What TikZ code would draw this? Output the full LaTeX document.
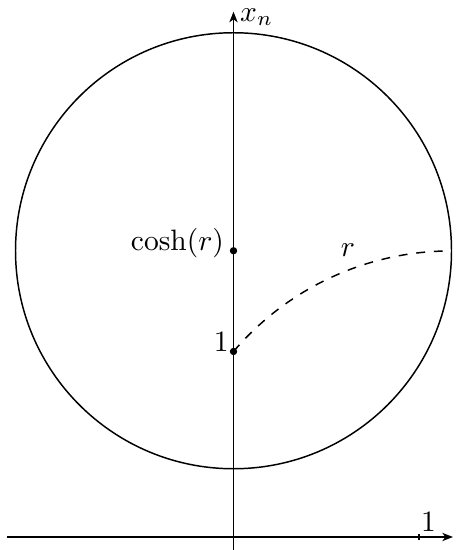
\documentclass[tikz,border=0pt]{standalone}
\usetikzlibrary{arrows.meta}
\begin{document}
\begin{tikzpicture}[x=62.88pt,y=62.88pt,line width=0.5pt,
  axis/.style={-{Stealth[length=3.6pt,width=2.8pt,inset=1pt]}},
  dotmark/.style={fill=black}]
\useasboundingbox (-1.2588,-0.0701) rectangle (1.1995,2.8949);
% coordinates
\coordinate (xl) at (-1.221,0);
\coordinate (xr) at (1.183,0);
\coordinate (yb) at (0,-0.0701);
\coordinate (yt) at (0,2.832);
\coordinate (ctr) at (0,1.5431);
\coordinate (one) at (0,1);
\coordinate (tick) at (1,0);
% axes
\draw[axis] (xl) -- (xr);
\draw[axis] (yb) -- (yt);
\node[anchor=base west,inner sep=0pt,xshift=2pt,yshift=-3.2pt] (xnlab) at (yt) {$x_n$};
% tick at 1
\draw ([yshift=-1pt]tick) -- ([yshift=1pt]tick);
\node[anchor=base,inner sep=0pt,xshift=3.2pt,yshift=1.7pt] (onex) at (tick) {$1$};
% circle
\draw (ctr) circle[radius=1.1752];
% dashed geodesic
\draw[dashed] (one) arc[start angle=139.56,end angle=90,radius=1.5431];
\node[inner sep=0pt] (rlab) at (0.617,1.545) {$r$};
% points
\fill[dotmark] (ctr) circle (1.25pt);
\fill[dotmark] (one) circle (1.25pt);
\node[anchor=base east,inner sep=0pt,xshift=-3pt] (coshlab) at (ctr) {$\cosh(r)$};
\node[anchor=base east,inner sep=0pt,xshift=-1.4pt] (onelab) at (one) {$1$};
\end{tikzpicture}
\end{document}
